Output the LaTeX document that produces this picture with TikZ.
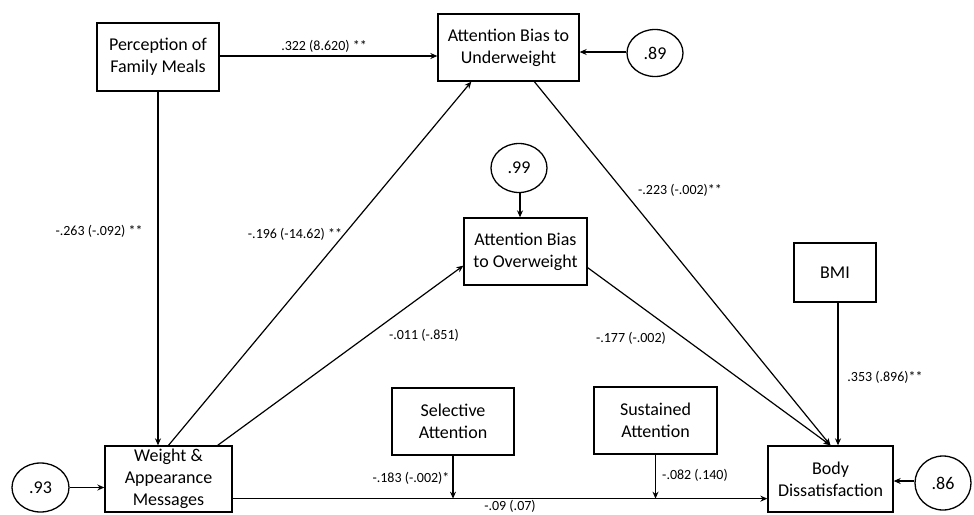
\documentclass[tikz,border=0pt]{standalone}
\usepackage{fontspec}
\setmainfont{Carlito}
\usetikzlibrary{arrows.meta,shapes.geometric}
\begin{document}
\begin{tikzpicture}[x=1pt,y=-1pt,
  boxnode/.style={draw,line width=1.3pt,inner sep=0pt,align=center,font=\fontsize{18}{22}\selectfont},
  errnode/.style={draw,ellipse,line width=1.3pt,inner sep=0pt,font=\fontsize{18}{22}\selectfont},
  lab/.style={inner sep=0pt,font=\fontsize{14}{16}\selectfont},
  arr/.style={line width=1.2pt,-{Stealth[length=7pt,width=6pt]}},
  ln/.style={line width=1.2pt}]
\useasboundingbox (0,0) rectangle (974,514);
% nodes
\node[boxnode,minimum width=122pt,minimum height=68pt] (pfm) at (158,57) {Perception of\\Family Meals};
\node[boxnode,minimum width=141pt,minimum height=67pt] (abu) at (508.5,47.5) {Attention Bias to\\Underweight};
\node[errnode,minimum width=56pt,minimum height=47pt] (e89) at (655,53) {.89};
\node[errnode,minimum width=56pt,minimum height=49pt] (e99) at (519,168) {.99};
\node[boxnode,minimum width=123pt,minimum height=67pt] (abo) at (525.5,251.5) {Attention Bias\\to Overweight};
\node[boxnode,minimum width=82pt,minimum height=59pt] (bmi) at (835,272.5) {BMI};
\node[boxnode,minimum width=125pt,minimum height=66pt] (bd) at (830.5,479) {Body\\Dissatisfaction};
\node[errnode,minimum width=56pt,minimum height=54pt] (e86) at (943,483) {.86};
\node[boxnode,minimum width=123pt,minimum height=67pt] (sus) at (655.5,420.5) {Sustained\\Attention};
\node[boxnode,minimum width=122pt,minimum height=67pt] (sel) at (453,421.5) {Selective\\Attention};
\node[boxnode,minimum width=127pt,minimum height=66pt] (wam) at (168.5,479) {Weight \&\\Appearance\\Messages};
\node[errnode,minimum width=57pt,minimum height=49pt] (e93) at (40.5,487.5) {.93};
% connectors
\draw[arr] ([yshift=1pt]pfm.east) -- ([yshift=1pt]pfm.east -| abu.west);
\draw[arr] ([yshift=1pt]e89.west) -- ([yshift=1pt]e89.west -| abu.east);
\draw[arr] ([xshift=1pt]e99.south) -- ([xshift=1pt]e99.south |- abo.north);
\draw[arr] (pfm.south) -- (pfm.south |- wam.north);
\draw[arr] (wam.north) -- ([xshift=34pt]abu.south west);
\draw[arr] ([xshift=-15pt]wam.north east) -- ([yshift=20pt]abo.south west);
\draw[arr] ([xshift=97pt]abu.south west) -- (bd.north);
\draw[arr] ([yshift=18pt]abo.south east) -- (bd.north);
\draw[arr] ([xshift=3pt]bmi.south) -- ([xshift=3pt]bmi.south |- bd.north);
\draw[arr] (e93.east) -- (e93.east -| wam.west);
\draw[arr] ([yshift=2pt]e86.west) -- ([yshift=2pt]e86.west -| bd.east);
\coordinate (hl) at ([yshift=14pt]wam.south east);
\draw[arr] (hl) -- (hl -| bd.west);
\draw[arr] (sel.south) -- (sel.south |- hl);
\draw[arr] (sus.south) -- (sus.south |- hl);
% labels
\node[lab] (l1) at (324,46) {.322 (8.620) **};
\node[lab] (l2) at (99,231) {-.263 (-.092) **};
\node[lab] (l3) at (295,234) {-.196 (-14.62) **};
\node[lab] (l4) at (424,335) {-.011 (-.851)};
\node[lab] (l5) at (680,190) {-.223 (-.002)**};
\node[lab] (l6) at (631,338) {-.177 (-.002)};
\node[lab] (l7) at (885,377) {.353 (.896)**};
\node[lab] (l8) at (411,478) {-.183 (-.002)*};
\node[lab] (l9) at (695,475) {-.082 (.140)};
\node[lab] (l10) at (510,506) {-.09 (.07)};
\end{tikzpicture}
\end{document}
